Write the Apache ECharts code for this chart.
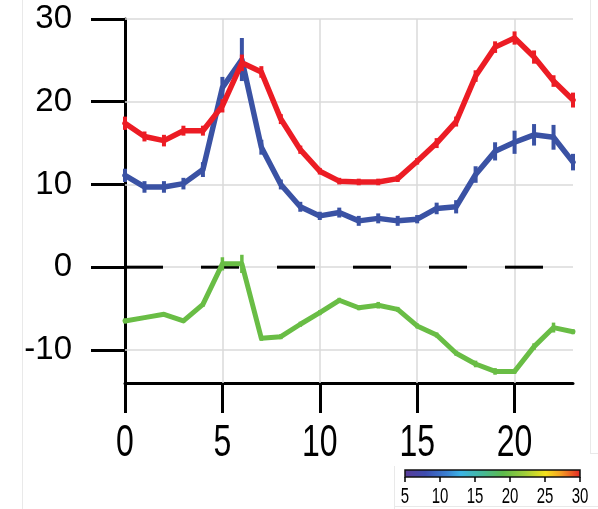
<!DOCTYPE html>
<html>
<head>
<meta charset="utf-8">
<script src="https://cdn.jsdelivr.net/npm/echarts@6/dist/echarts.min.js"></script>
<style>
  html, body { margin: 0; padding: 0; background: #fff; }
  #chart { width: 598px; height: 509px; }
</style>
</head>
<body>
<div id="chart"></div>
<script>
// Hour of day
const hours = [0,1,2,3,4,5,6,7,8,9,10,11,12,13,14,15,16,17,18,19,20,21,22,23];

// Red series: mean and error half-width
const redValues = [17.4,15.8,15.3,16.5,16.5,19.5,24.7,23.6,17.9,14.2,11.6,10.4,10.3,10.3,10.7,12.8,15.0,17.6,23.1,26.6,27.7,25.4,22.5,20.2];
const redErrors = [0.8,0.6,0.7,0.6,0.6,0.8,1.0,0.7,0.6,0.5,0.4,0.4,0.4,0.4,0.4,0.4,0.6,0.6,0.7,0.7,0.8,0.8,0.7,0.9];

// Blue series
const blueValues = [11.1,9.7,9.7,10.1,11.8,21.7,25.1,14.5,10.0,7.3,6.2,6.6,5.6,5.9,5.6,5.8,7.1,7.3,11.2,14.0,15.1,16.0,15.7,12.7];
const blueErrors = [0.8,0.7,0.7,0.7,0.9,1.3,2.6,0.9,0.6,0.6,0.5,0.6,0.6,0.6,0.6,0.5,0.7,0.8,1.0,1.1,1.4,1.3,1.5,1.0];

// Green series
const greenValues = [-6.5,-6.1,-5.7,-6.5,-4.5,0.4,0.4,-8.6,-8.4,-6.9,-5.5,-4.0,-4.9,-4.6,-5.1,-7.1,-8.2,-10.4,-11.7,-12.6,-12.6,-9.6,-7.3,-7.8];
const greenErrors = [0.3,0.2,0.2,0.2,0.3,0.8,1.1,0.3,0.3,0.3,0.3,0.3,0.3,0.4,0.3,0.3,0.3,0.3,0.4,0.4,0.3,0.4,0.6,0.3];

// Tick labels
const xTicks = [0,5,10,15,20];
const yTicks = [-10,0,10,20,30];
const barTicks = [5,10,15,20,25,30];

const COLOR_RED = '#ec1c24';
const COLOR_BLUE = '#3a52a4';
const COLOR_GREEN = '#69bd45';
const ZERO_LINE_END = 21.5;

function pairs(vals) { return hours.map((h, i) => [h, vals[i]]); }
function bars(vals, errs) { return hours.map((h, i) => [h, vals[i] - errs[i], vals[i] + errs[i]]); }

function errorSeries(vals, errs, color, width, z) {
  return {
    type: 'custom',
    xAxisIndex: 0, yAxisIndex: 0,
    z: z,
    silent: true,
    data: bars(vals, errs),
    renderItem: function (params, api) {
      const a = api.coord([api.value(0), api.value(1)]);
      const b = api.coord([api.value(0), api.value(2)]);
      return {
        type: 'line',
        shape: { x1: a[0], y1: a[1], x2: b[0], y2: b[1] },
        style: { stroke: color, lineWidth: width }
      };
    }
  };
}

function lineSeries(vals, color, width, z) {
  return {
    type: 'line',
    xAxisIndex: 0, yAxisIndex: 0,
    z: z,
    data: pairs(vals),
    showSymbol: false,
    silent: true,
    lineStyle: { color: color, width: width, join: 'round', cap: 'round' }
  };
}

const gridLineData = yTicks.map(v => ({ yAxis: v })).concat(xTicks.filter(v => v > 0).map(v => ({ xAxis: v })));

const frameLines = [
  { type: 'line', shape: { x1: 22.5, y1: 0, x2: 22.5, y2: 509 }, style: { stroke: '#e9e9e9', lineWidth: 1 }, z: 0 },
  { type: 'line', shape: { x1: 590.5, y1: 0, x2: 590.5, y2: 453 }, style: { stroke: '#e9e9e9', lineWidth: 1 }, z: 0 },
  { type: 'line', shape: { x1: 590, y1: 453.5, x2: 598, y2: 453.5 }, style: { stroke: '#e9e9e9', lineWidth: 1 }, z: 0 },
  { type: 'line', shape: { x1: 394.5, y1: 466, x2: 394.5, y2: 509 }, style: { stroke: '#e9e9e9', lineWidth: 1 }, z: 0 },
  { type: 'line', shape: { x1: 394, y1: 506.5, x2: 598, y2: 506.5 }, style: { stroke: '#e9e9e9', lineWidth: 1 }, z: 0 }
];

const chart = echarts.init(document.getElementById('chart'), null, { renderer: 'canvas' });

chart.setOption({
  animation: false,
  backgroundColor: '#ffffff',
  graphic: frameLines,
  grid: [
    { left: 125, right: 25, top: 19, bottom: 126, containLabel: false },
    {
      left: 405, width: 175, top: 470, height: 7, show: true,
      borderColor: '#111', borderWidth: 1.5,
      backgroundColor: new echarts.graphic.LinearGradient(0, 0, 1, 0, [
        { offset: 0.00, color: '#5b3c98' },
        { offset: 0.12, color: '#3e4db0' },
        { offset: 0.24, color: '#3b80d2' },
        { offset: 0.32, color: '#3cb4e6' },
        { offset: 0.44, color: '#46b99a' },
        { offset: 0.56, color: '#5dbb4c' },
        { offset: 0.68, color: '#9dcd3a' },
        { offset: 0.80, color: '#f4e21c' },
        { offset: 0.88, color: '#f5a623' },
        { offset: 1.00, color: '#e52526' }
      ])
    }
  ],
  xAxis: [
    {
      type: 'value', gridIndex: 0, min: 0, max: 23,
      axisLine: { show: true, onZero: false, lineStyle: { color: '#000', width: 3 } },
      axisTick: { show: true, length: 30, customValues: xTicks, lineStyle: { color: '#000', width: 3 } },
      axisLabel: { show: false, customValues: xTicks },
      splitLine: { show: false }
    },
    {
      type: 'value', gridIndex: 1, min: 5, max: 30, interval: 5,
      axisLine: { show: false },
      axisTick: { show: true, length: 5, lineStyle: { color: '#000', width: 1.5 } },
      axisLabel: { show: false },
      splitLine: { show: false }
    }
  ],
  yAxis: [
    {
      type: 'value', gridIndex: 0, min: -14, max: 30,
      axisLine: { show: true, onZero: false, lineStyle: { color: '#000', width: 3 } },
      axisTick: { show: true, length: 34, customValues: yTicks, lineStyle: { color: '#000', width: 3 } },
      axisLabel: {
        customValues: yTicks, margin: 53, color: '#000',
        fontFamily: '"Liberation Sans", Arial, sans-serif', fontSize: 33
      },
      splitLine: { show: false }
    },
    { type: 'value', gridIndex: 1, min: 0, max: 1, show: false }
  ],
  series: [
    {
      // light reference grid
      type: 'line', xAxisIndex: 0, yAxisIndex: 0, z: 1, silent: true,
      data: [], showSymbol: false,
      markLine: {
        z: 1, silent: true, symbol: ['none', 'none'], label: { show: false },
        lineStyle: { color: '#dadada', width: 1.5, type: 'solid' },
        emphasis: { disabled: true },
        data: gridLineData
      }
    },
    {
      // zero reference (dashed)
      type: 'line', xAxisIndex: 0, yAxisIndex: 0, z: 2, silent: true,
      data: [[0, 0], [ZERO_LINE_END, 0]], showSymbol: false,
      lineStyle: { color: '#000', width: 3, type: [38, 38] }
    },
    lineSeries(blueValues, COLOR_BLUE, 5.5, 3),
    errorSeries(blueValues, blueErrors, COLOR_BLUE, 4, 3),
    lineSeries(redValues, COLOR_RED, 5.5, 4),
    errorSeries(redValues, redErrors, COLOR_RED, 4, 4),
    lineSeries(greenValues, COLOR_GREEN, 5, 5),
    errorSeries(greenValues, greenErrors, COLOR_GREEN, 3.5, 5)
  ]
});

// Tick labels for the hour axis and the colour bar, placed through the axis scales
// (drawn as graphic text so the glyphs can be stretched vertically).
function tickText(value, axisIndex, y, fontSize, stretch) {
  const x = chart.convertToPixel({ xAxisIndex: axisIndex }, value);
  return {
    type: 'text', x: x, y: y, scaleY: stretch, z: 10, silent: true,
    style: {
      text: String(value), fill: '#000', align: 'center', verticalAlign: 'middle',
      font: fontSize + 'px "Liberation Sans", Arial, sans-serif'
    }
  };
}

const hourLabels = xTicks.map(v => tickText(v, 0, 444, 32, 1.4));
const barLabels = barTicks.map(v => tickText(v, 1, 497, 15, 1.5));

chart.setOption({ graphic: frameLines.concat(hourLabels, barLabels) });
</script>
</body>
</html>
